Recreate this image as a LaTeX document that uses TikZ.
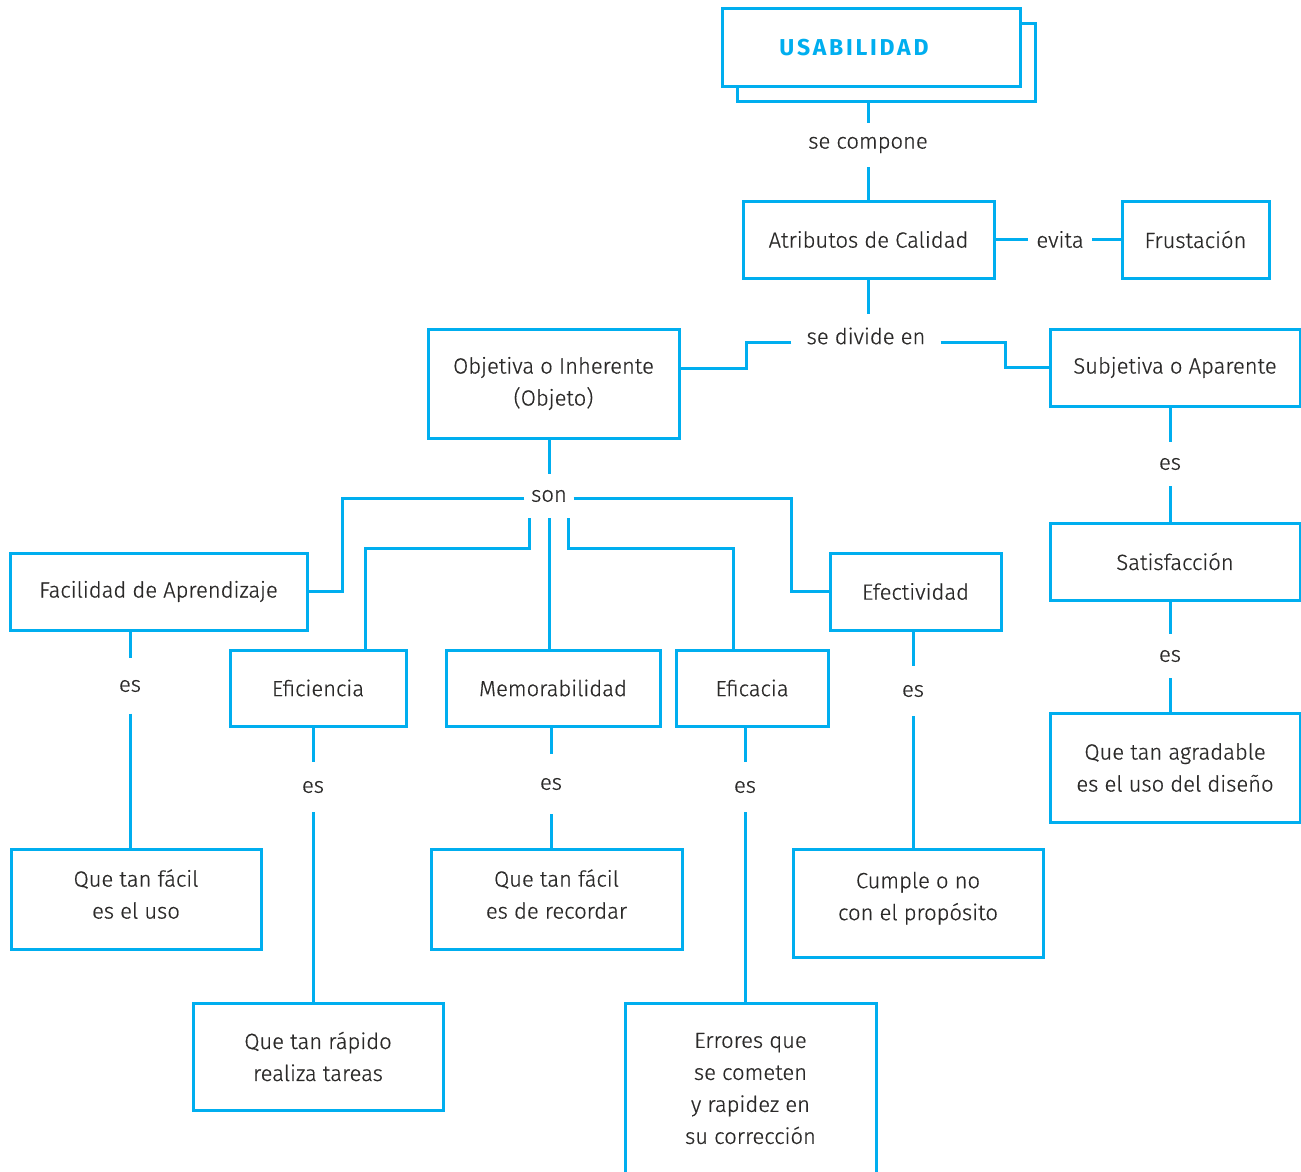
\documentclass[tikz,border=0pt]{standalone}
\usepackage{fontspec}
\setmainfont{Fira Sans Light}[FakeBold=0.6]
\newfontfamily\titlefont{Fira Sans}[LetterSpace=12]
\definecolor{linecyan}{RGB}{0,174,239}
\definecolor{inkgray}{RGB}{43,42,41}
\begin{document}
\begin{tikzpicture}[x=1pt, y=-1pt,
  every node/.style={text=inkgray, font=\fontsize{22}{32}\selectfont},
  box/.style={draw=linecyan, line width=3pt, fill=white, inner sep=0pt, align=center},
  lbl/.style={inner sep=0pt, minimum width=10pt},
  wire/.style={draw=linecyan, line width=3pt}
]
\useasboundingbox (0,0) rectangle (1301,1172);

% title, with its shadow frame
\node[box, minimum width=298pt, minimum height=77pt] (usabBack) at (886,62.5) {};
\node[box, minimum width=298pt, minimum height=77pt] (usab) at (871,47.5) {};
\node[text=linecyan, font=\titlefont\bfseries\fontsize{23}{24}\selectfont, inner sep=0pt] (usabText) at (854,47.5) {USABILIDAD};

% upper boxes
\node[box, minimum width=251pt, minimum height=77pt] (atrib) at (868.5,239.5) {Atributos de Calidad};
\node[box, minimum width=147pt, minimum height=77pt] (frust) at (1195.5,239.5) {Frustación};
\node[box, minimum width=251pt, minimum height=109pt] (obj) at (553.5,383.5) {Objetiva o Inherente\\(Objeto)};
\node[box, minimum width=250pt, minimum height=77pt] (subj) at (1175,367.5) {Subjetiva o Aparente};
\node[box, minimum width=250pt, minimum height=77pt] (satis) at (1175,561.5) {Satisfacción};
\node[box, minimum width=250pt, minimum height=109pt] (agrad) at (1175,767.5) {Que tan agradable\\es el uso del diseño};

% attribute boxes
\node[box, minimum width=297pt, minimum height=77pt] (facil) at (158.5,591.5) {Facilidad de Aprendizaje};
\node[box, minimum width=171pt, minimum height=77pt] (efect) at (915.5,591.5) {Efectividad};
\node[box, minimum width=176pt, minimum height=76pt] (efic) at (318,688) {Eficiencia};
\node[box, minimum width=214pt, minimum height=76pt] (memo) at (553,688) {Memorabilidad};
\node[box, minimum width=152pt, minimum height=76pt] (eficacia) at (752,688) {Eficacia};

% description boxes (text sits a little above centre)
\node[box, minimum width=250pt, minimum height=100pt, text depth=10pt] (uso) at (136,899) {Que tan fácil\\es el uso};
\node[box, minimum width=250pt, minimum height=107pt] (rapido) at (318,1056.5) {Que tan rápido\\realiza tareas};
\node[box, minimum width=251pt, minimum height=100pt, text depth=10pt] (recordar) at (556.5,899) {Que tan fácil\\es de recordar};
\node[box, minimum width=251pt, minimum height=171pt] (errores) at (750.5,1088.5) {Errores que\\se cometen\\y rapidez en\\su corrección};
\node[box, minimum width=250pt, minimum height=108pt, text depth=14pt] (cumple) at (918,903) {Cumple o no\\con el propósito};

% link labels
\node[lbl, minimum height=44pt] (compone) at (868,145) {se compone};
\node[lbl, minimum width=64pt] (evita) at (1060,239.5) {evita};
\node[lbl, minimum width=149pt, minimum height=44pt] (divide) at (866,336) {se divide en};
\node[lbl, minimum width=49pt, minimum height=44pt] (son) at (549,496) {son};
\node[lbl, minimum height=55pt] (esFacil) at (130,686) {es};
\node[lbl, minimum height=50pt] (esEfic) at (313,787) {es};
\node[lbl, minimum height=60pt] (esMemo) at (551,784) {es};
\node[lbl, minimum height=50pt] (esEficacia) at (745,787) {es};
\node[lbl, minimum height=50pt] (esEfect) at (913,691) {es};
\node[lbl, minimum height=44pt] (esSubj) at (1170,464) {es};
\node[lbl, minimum height=44pt] (esSatis) at (1170,656) {es};

% connectors
\draw[wire] (compone |- usabBack.south) -- (compone.north);
\draw[wire] (compone.south) -- (compone |- atrib.north);
\draw[wire] (atrib.east) -- (evita.west);
\draw[wire] (evita.east) -- (frust.west);
\draw[wire] (atrib.south) -- (atrib.south |- divide.north);
\draw[wire] ([yshift=-6pt]divide.west) -- ++(-45,0) |- ([yshift=15.5pt]obj.east);
\draw[wire] ([yshift=-6pt]divide.east) -- ++(65,0) |- (subj.west);
\draw[wire] (esSubj |- subj.south) -- (esSubj.north);
\draw[wire] (esSubj.south) -- (esSubj |- satis.north);
\draw[wire] (esSatis |- satis.south) -- (esSatis.north);
\draw[wire] (esSatis.south) -- (esSatis |- agrad.north);

\draw[wire] (son |- obj.south) -- (son.north);
\draw[wire] ([yshift=-2pt]son.west) -- ++(-182,0) |- (facil.east);
\draw[wire] ([yshift=-2pt]son.east) -- ++(218,0) |- (efect.west);
\draw[wire] ([xshift=-20pt]son.south) -- ++(0,30) -| ([xshift=47pt]efic.north);
\draw[wire] (son.south) -- (son.south |- memo.north);
\draw[wire] ([xshift=19pt]son.south) -- ++(0,30) -| ([xshift=-19pt]eficacia.north);

\draw[wire] (esFacil |- facil.south) -- (esFacil.north);
\draw[wire] (esFacil.south) -- (esFacil |- uso.north);
\draw[wire] (esEfic |- efic.south) -- (esEfic.north);
\draw[wire] (esEfic.south) -- (esEfic |- rapido.north);
\draw[wire] (esMemo |- memo.south) -- (esMemo.north);
\draw[wire] (esMemo.south) -- (esMemo |- recordar.north);
\draw[wire] (esEficacia |- eficacia.south) -- (esEficacia.north);
\draw[wire] (esEficacia.south) -- (esEficacia |- errores.north);
\draw[wire] (esEfect |- efect.south) -- (esEfect.north);
\draw[wire] (esEfect.south) -- (esEfect |- cumple.north);
\end{tikzpicture}
\end{document}
